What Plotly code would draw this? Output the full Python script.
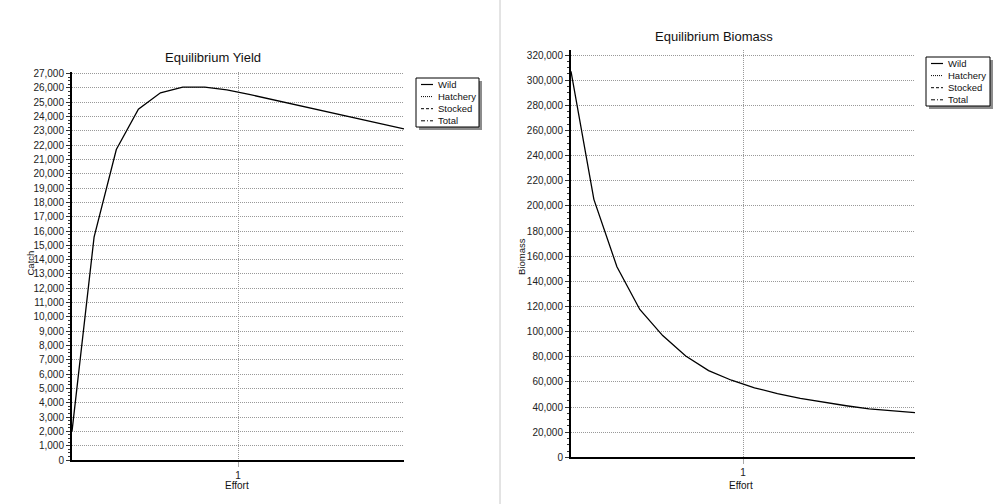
import plotly.graph_objects as go

W, H = 999, 504

# data
effort = [0, 0.133, 0.267, 0.4, 0.533, 0.667, 0.8, 0.933,
          1.067, 1.2, 1.333, 1.467, 1.6, 1.733, 1.867, 2.0]
catch_wild = [2000, 15580, 21700, 24510, 25660, 26060, 26060, 25860,
              25550, 25200, 24850, 24510, 24180, 23840, 23490, 23140]
biomass_wild = [307000, 205200, 151600, 117600, 96800, 80500, 69000, 61300,
                55300, 50700, 46800, 43600, 41000, 38500, 36800, 35500]
series_names = ["Wild", "Hatchery", "Stocked", "Total"]
series_dash = ["solid", "1px,1px", "3px,2px", "4px,2px,1px,2px"]

FONT = "Liberation Sans, Arial, sans-serif"
GRID_DASH = "1px,1px"


def px(x):
    return x / W


def py(y):
    return 1 - y / H


fig = go.Figure()
fig.add_trace(go.Scatter(x=effort, y=catch_wild, mode="lines", name="Wild",
                         line=dict(color="black", width=1.3),
                         xaxis="x", yaxis="y", showlegend=False))
fig.add_trace(go.Scatter(x=effort, y=biomass_wild, mode="lines", name="Wild",
                         line=dict(color="black", width=1.3),
                         xaxis="x2", yaxis="y2", showlegend=False))

xax = dict(
    range=[0, 2],
    tickvals=[1],
    ticktext=["1"],
    ticks="outside",
    ticklen=5,
    tickcolor="#aaa",
    showgrid=True,
    gridcolor="#999",
    griddash=GRID_DASH,
    gridwidth=1,
    zeroline=False,
    showline=True,
    linecolor="black",
    linewidth=2,
    automargin=False,
    tickfont=dict(size=10, color="#222"),
)
yax = dict(
    ticks="outside",
    ticklen=4,
    tickcolor="#333",
    tickformat=",d",
    showgrid=True,
    gridcolor="#999",
    griddash=GRID_DASH,
    gridwidth=1,
    zeroline=False,
    showline=True,
    linecolor="black",
    linewidth=2,
    automargin=False,
    tickfont=dict(size=10, color="#222"),
)

fig.update_layout(
    width=W,
    height=H,
    margin=dict(l=0, r=0, t=0, b=0, pad=0, autoexpand=False),
    paper_bgcolor="white",
    plot_bgcolor="white",
    font=dict(family=FONT, color="#222"),
    showlegend=False,
    xaxis=dict(xax, domain=[px(72), px(404)], anchor="y"),
    yaxis=dict(yax, domain=[py(460), py(71.5)], anchor="x",
               range=[0, 27150], dtick=1000,
               minor=dict(dtick=250, ticklen=2, ticks="outside",
                          tickcolor="#333", showgrid=False)),
    xaxis2=dict(xax, domain=[px(571), px(915)], anchor="y2"),
    yaxis2=dict(yax, domain=[py(457.3), py(50)], anchor="x2",
                range=[0, 324000], dtick=20000,
                minor=dict(dtick=5000, ticklen=2, ticks="outside",
                           tickcolor="#333", showgrid=False)),
)

ann = []
shapes = []


def text(x, y, s, size, **kw):
    ann.append(dict(x=px(x), y=py(y), xref="paper", yref="paper", text=s,
                    showarrow=False, font=dict(family=FONT, size=size, color="#111"),
                    **kw))


# titles and axis titles
text(213, 57, "Equilibrium Yield", 13, xanchor="center", yanchor="middle")
text(714, 37, "Equilibrium Biomass", 13, xanchor="center", yanchor="middle")
text(29.5, 263, "Catch", 9.5, xanchor="center", yanchor="middle", textangle=-90)
text(521, 257, "Biomass", 9.5, xanchor="center", yanchor="middle", textangle=-90)
text(237, 485, "Effort", 10, xanchor="center", yanchor="middle")
text(741, 485, "Effort", 10, xanchor="center", yanchor="middle")

# divider between the two panels
shapes.append(dict(type="line", xref="paper", yref="paper",
                   x0=px(500), x1=px(500), y0=0, y1=1,
                   line=dict(color="#c8c8c8", width=1)))


def legend_box(x0, y0, x1, y1):
    shapes.append(dict(type="rect", xref="paper", yref="paper",
                       x0=px(x0 + 3), x1=px(x1 + 3), y0=py(y1 + 3), y1=py(y0 + 3),
                       line=dict(width=0), fillcolor="#8c8c8c"))
    shapes.append(dict(type="rect", xref="paper", yref="paper",
                       x0=px(x0), x1=px(x1), y0=py(y1), y1=py(y0),
                       line=dict(color="black", width=1), fillcolor="white"))
    for i, (name, dash) in enumerate(zip(series_names, series_dash)):
        yy = y0 + 6.5 + i * 12.1
        shapes.append(dict(type="line", xref="paper", yref="paper",
                           x0=px(x0 + 5), x1=px(x0 + 17), y0=py(yy), y1=py(yy),
                           line=dict(color="black", width=1.2 if i == 0 else 1,
                                     dash=dash)))
        text(x0 + 20, yy, name, 9.5, xanchor="left", yanchor="middle")


legend_box(416, 78, 479, 127)
legend_box(926, 57, 990, 106)

fig.update_layout(annotations=ann, shapes=shapes)

fig.write_html(
    "out.html",
    config={"displayModeBar": False},
    post_script="document.body.style.margin='0';document.body.style.overflow='hidden';",
)
